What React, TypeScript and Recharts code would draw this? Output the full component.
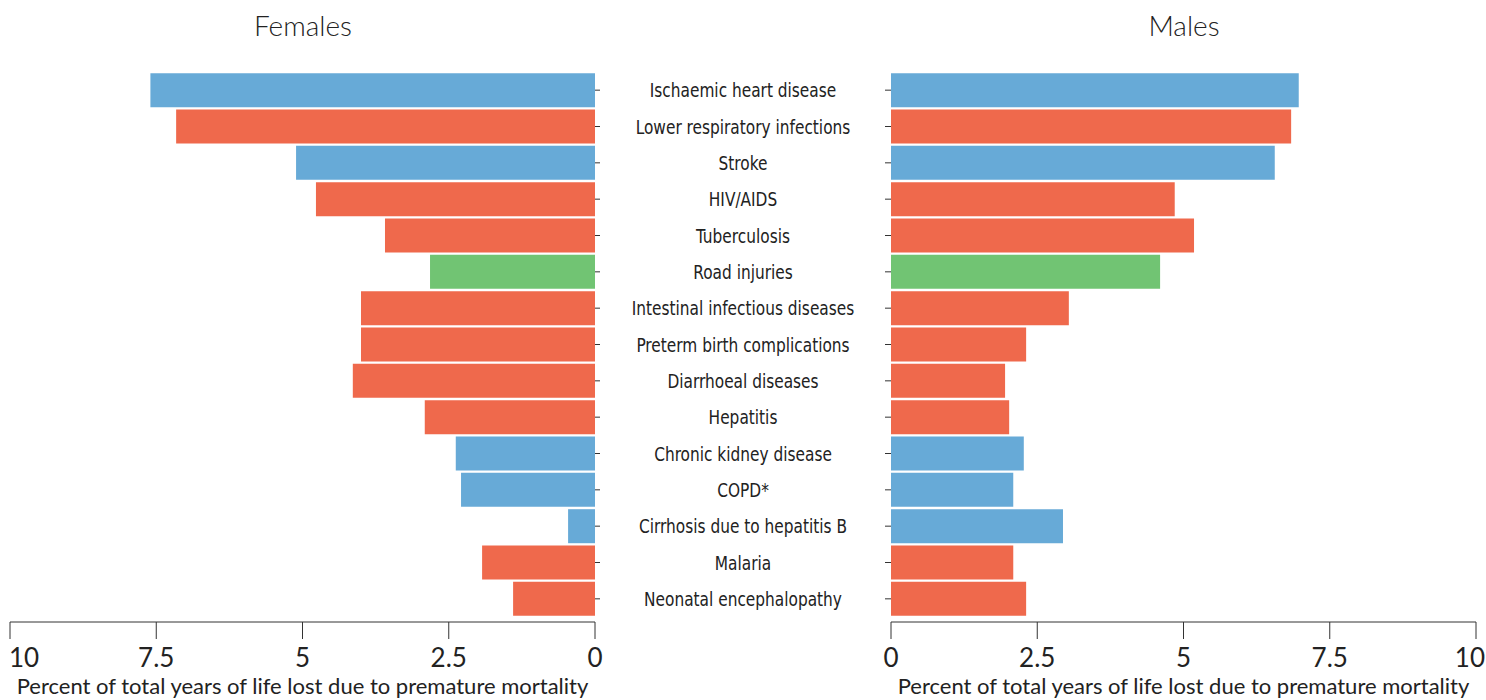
import React from 'react';
import { BarChart, Bar, XAxis, YAxis, Cell } from 'recharts';

// Causes of premature mortality, top to bottom
const CAUSES = [
    'Ischaemic heart disease',
    'Lower respiratory infections',
    'Stroke',
    'HIV/AIDS',
    'Tuberculosis',
    'Road injuries',
    'Intestinal infectious diseases',
    'Preterm birth complications',
    'Diarrhoeal diseases',
    'Hepatitis',
    'Chronic kidney disease',
    'COPD*',
    'Cirrhosis due to hepatitis B',
    'Malaria',
    'Neonatal encephalopathy'
];

// Cause group: ncd = non-communicable, cmn = communicable/maternal/neonatal, inj = injuries
const GROUPS = ['ncd', 'cmn', 'ncd', 'cmn', 'cmn', 'inj', 'cmn', 'cmn', 'cmn', 'cmn', 'ncd', 'ncd', 'ncd', 'cmn', 'cmn'];

// Percent of total years of life lost
const FEMALES = [7.6, 7.16, 5.11, 4.77, 3.59, 2.82, 4.0, 4.0, 4.14, 2.91, 2.38, 2.29, 0.46, 1.93, 1.4];
const MALES = [6.97, 6.84, 6.56, 4.85, 5.18, 4.6, 3.04, 2.31, 1.95, 2.02, 2.27, 2.09, 2.94, 2.09, 2.31];

const TICKS = [0, 2.5, 5, 7.5, 10];

const GROUP_COLORS: Record<string, string> = {
    ncd: '#67aad7',
    cmn: '#ef694c',
    inj: '#71c473'
};

const data = CAUSES.map((cause, i) => ({
    cause,
    group: GROUPS[i],
    females: FEMALES[i],
    males: MALES[i]
}));

const AXIS_TITLE = 'Percent of total years of life lost due to premature mortality';
const TEXT = '#222';
const SANS = 'Lato, "Open Sans", sans-serif';
const NARROW = '"DejaVu Sans Condensed", "Liberation Sans Narrow", sans-serif';

// centred cause label sitting between the two panels (squeezed to look condensed)
const CauseTick = (props: any) => {
    const { x, y, payload } = props;
    return (
        <g transform={`translate(${x + 141},${y}) scale(0.855,1)`}>
            <text
                x={0}
                y={0}
                dy="0.36em"
                textAnchor="middle"
                fill={TEXT}
                fontSize={20}
                fontFamily={NARROW}
            >
                {payload.value}
            </text>
        </g>
    );
};

// value tick; the "10" at the outer end is pulled inside the frame
const ValueTick = (props: any) => {
    const { x, y, payload, side } = props;
    const isEdge = payload.value === 10;
    let anchor: 'start' | 'middle' | 'end' = 'middle';
    let tx = x;
    if (isEdge && side === 'left') {
        anchor = 'start';
        tx = x - 1;
    } else if (isEdge && side === 'right') {
        anchor = 'end';
        tx = x + 9;
    }
    return (
        <text x={tx} y={y} dy="0.71em" textAnchor={anchor} fill={TEXT} fontSize={26} fontFamily={SANS}>
            {String(payload.value)}
        </text>
    );
};

const xAxisProps = {
    type: 'number' as const,
    domain: [0, 10],
    ticks: TICKS,
    height: 78,
    tickSize: 17,
    tickMargin: 10,
    interval: 0 as const,
    axisLine: { stroke: '#333' },
    tickLine: { stroke: '#333' }
};

const axisLabel = {
    value: AXIS_TITLE,
    position: 'insideBottom' as const,
    offset: 6,
    fill: TEXT,
    fontSize: 22,
    fontFamily: SANS
};

const Title = ({ x, label }: { x: number; label: string }) => (
    <div
        style={{
            position: 'absolute',
            left: x - 150,
            top: 8,
            width: 300,
            textAlign: 'center',
            fontFamily: SANS,
            fontSize: 28,
            fontWeight: 300,
            color: TEXT
        }}
    >
        {label}
    </div>
);

export default function App() {
    return (
        <div style={{ position: 'absolute', left: 0, top: 0, width: 1486, height: 700, background: '#fff', overflow: 'hidden' }}>
            <Title x={303} label="Females" />
            <Title x={1184} label="Males" />

            <div style={{ position: 'absolute', left: 0, top: 0 }}>
                <BarChart
                    layout="vertical"
                    width={891}
                    height={700}
                    data={data}
                    margin={{ top: 72, right: 0, bottom: 0, left: 10 }}
                    barCategoryGap={1.2}
                >
                    <XAxis
                        dataKey="females"
                        reversed
                        label={axisLabel}
                        tick={<ValueTick side="left" />}
                        {...xAxisProps}
                    />
                    <YAxis
                        type="category"
                        dataKey="cause"
                        orientation="right"
                        width={296}
                        padding={{ top: 0, bottom: 5 }}
                        axisLine={false}
                        tickSize={5}
                        tickMargin={2}
                        tickLine={{ stroke: '#333' }}
                        tick={<CauseTick />}
                        interval={0}
                    />
                    <Bar dataKey="females" isAnimationActive={false}>
                        {data.map((d, i) => (
                            <Cell key={i} fill={GROUP_COLORS[d.group]} />
                        ))}
                    </Bar>
                </BarChart>
            </div>

            <div style={{ position: 'absolute', left: 879, top: 0 }}>
                <BarChart
                    layout="vertical"
                    width={607}
                    height={700}
                    data={data}
                    margin={{ top: 72, right: 10, bottom: 0, left: 0 }}
                    barCategoryGap={1.2}
                    style={{ overflow: 'visible' }}
                >
                    <XAxis
                        dataKey="males"
                        label={axisLabel}
                        tick={<ValueTick side="right" />}
                        {...xAxisProps}
                    />
                    <YAxis
                        type="category"
                        dataKey="cause"
                        orientation="left"
                        width={12}
                        padding={{ top: 0, bottom: 5 }}
                        axisLine={false}
                        tickSize={6}
                        tickLine={{ stroke: '#333' }}
                        tickFormatter={() => ''}
                        interval={0}
                    />
                    <Bar dataKey="males" isAnimationActive={false}>
                        {data.map((d, i) => (
                            <Cell key={i} fill={GROUP_COLORS[d.group]} />
                        ))}
                    </Bar>
                </BarChart>
            </div>
        </div>
    );
}
